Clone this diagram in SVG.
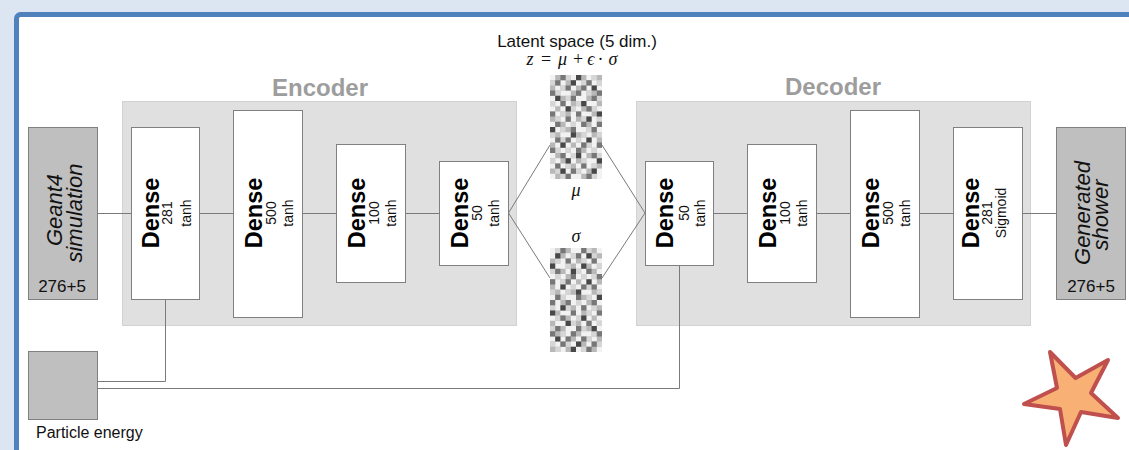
<svg xmlns="http://www.w3.org/2000/svg" xmlns:xlink="http://www.w3.org/1999/xlink" width="1129" height="450" viewBox="0 0 1129 450">
<style>
.cont{fill:#e0e0e0;stroke:#d2d2d2;stroke-width:1}
.title{font-family:"Liberation Sans",Arial,sans-serif;font-weight:bold;font-size:24px;fill:#9d9d9d;text-anchor:middle}
.layer{fill:#fff;stroke:#808080;stroke-width:1}
.io{fill:#bfbfbf;stroke:#808080;stroke-width:1}
.dn{font-family:"Liberation Sans",Arial,sans-serif;font-weight:bold;font-size:23.5px;fill:#000;text-anchor:middle}
.sm{font-family:"Liberation Sans",Arial,sans-serif;font-size:14px;fill:#111;text-anchor:middle}
.it{font-family:"Liberation Sans",Arial,sans-serif;font-style:italic;font-size:22px;fill:#111;text-anchor:middle}
.lbl{font-family:"Liberation Sans",Arial,sans-serif;font-size:17px;fill:#111;text-anchor:middle}
.m{font-family:"Liberation Serif","Times New Roman",serif;font-size:18px;fill:#111;text-anchor:middle}
.mi{font-style:italic}
.conn line,.conn polyline{stroke:#7a7a7a;stroke-width:1;fill:none}
.cw{stroke:#f2f2f2}.cl{stroke:#d6d6d6}.cd{stroke:#777}.ck{stroke:#484848}
.cells path{fill:none;stroke-width:1}
</style>
<defs>
<g id="grid" class="cells">
<rect x="0" y="0" width="10" height="20" fill="#b8b8b8"/>
<path class="cw" d="M0 .5h1M4 .5h1M7 .5h1M2 1.5h1M5 1.5h1M8 1.5h1M1 2.5h1M4 2.5h1M7 2.5h1M9 2.5h1M2 3.5h2M6 3.5h1M0 4.5h1M5 4.5h2M1 5.5h1M3 5.5h1M7 5.5h2M0 6.5h1M2 6.5h1M5 6.5h1M9 6.5h1M1 7.5h1M4 7.5h1M6 7.5h2M2 8.5h1M4 8.5h1M8 8.5h1M0 9.5h1M3 9.5h1M5 9.5h1M8 9.5h1M1 10.5h1M5 10.5h2M9 10.5h1M2 11.5h2M7 11.5h1M0 12.5h1M4 12.5h1M6 12.5h1M8 12.5h1M1 13.5h1M3 13.5h1M5 13.5h1M8 13.5h1M2 14.5h1M4 14.5h1M7 14.5h1M9 14.5h1M0 15.5h1M3 15.5h1M6 15.5h1M1 16.5h1M4 16.5h1M7 16.5h2M0 17.5h1M2 17.5h1M5 17.5h1M7 17.5h1M3 18.5h1M6 18.5h1M9 18.5h1M0 19.5h1M4 19.5h2M9 19.5h1"/>
<path class="cl" d="M3 .5h1M8 .5h1M0 1.5h1M6 1.5h1M9 1.5h1M2 2.5h1M1 3.5h1M7 3.5h1M3 4.5h1M9 4.5h1M0 5.5h1M5 5.5h1M4 6.5h1M8 6.5h1M2 7.5h1M1 8.5h1M6 8.5h1M9 8.5h1M4 9.5h1M2 10.5h1M7 10.5h1M0 11.5h1M6 11.5h1M9 11.5h1M2 12.5h1M5 12.5h1M7 13.5h1M1 14.5h1M3 14.5h1M8 14.5h1M4 15.5h1M9 15.5h1M0 16.5h1M6 16.5h1M3 17.5h1M8 17.5h1M1 18.5h1M5 18.5h1M2 19.5h1M8 19.5h1"/>
<path class="cd" d="M2 .5h1M1 1.5h1M7 1.5h1M3 2.5h1M6 2.5h1M0 3.5h1M5 3.5h1M9 3.5h1M4 4.5h1M8 4.5h1M2 5.5h1M7 6.5h1M0 7.5h1M5 7.5h1M3 8.5h1M1 9.5h1M6 9.5h1M9 9.5h1M4 10.5h1M8 10.5h1M1 12.5h1M3 12.5h1M6 13.5h1M9 13.5h1M0 14.5h1M5 14.5h1M2 15.5h1M8 15.5h1M1 17.5h1M6 17.5h1M4 18.5h1M3 19.5h1M7 19.5h1"/>
<path class="ck" d="M5 .5h1M4 1.5h1M8 2.5h1M1 4.5h1M6 5.5h1M3 6.5h1M9 7.5h1M7 8.5h1M0 10.5h1M4 11.5h1M7 12.5h1M2 13.5h1M5 15.5h1M3 16.5h1M9 16.5h1M2 18.5h1M8 18.5h1"/>
</g>
</defs>

<rect width="1129" height="450" fill="#dce6f2"/>
<rect x="16.5" y="14.5" width="1200" height="500" rx="4" fill="#fff" stroke="#4f81bd" stroke-width="5"/>

<g id="encoder">
<rect class="cont" x="122.5" y="101.5" width="394" height="224"/>
<text class="title" x="320" y="96">Encoder</text>
</g>
<g id="decoder">
<rect class="cont" x="636.5" y="101.5" width="394" height="224"/>
<text class="title" x="833" y="95">Decoder</text>
</g>

<g class="conn" id="connectors">
<line x1="97" y1="213.5" x2="131" y2="213.5"/>
<line x1="199" y1="213.5" x2="233" y2="213.5"/>
<line x1="302" y1="213.5" x2="336" y2="213.5"/>
<line x1="405" y1="213.5" x2="439" y2="213.5"/>
<line x1="713" y1="213.5" x2="747" y2="213.5"/>
<line x1="816" y1="213.5" x2="850" y2="213.5"/>
<line x1="919" y1="213.5" x2="953" y2="213.5"/>
<line x1="1022" y1="213.5" x2="1056" y2="213.5"/>
<polyline points="550,145 508.5,213 550,278"/>
<polyline points="602,145 645,213 602,278"/>
<polyline points="97,381.5 165.5,381.5 165.5,299"/>
<polyline points="97,388.5 679.5,388.5 679.5,265"/>
</g>

<g id="geant4">
<rect class="io" x="28.5" y="127.5" width="69" height="172"/>
<text class="it" transform="translate(62,210) rotate(-90)">Geant4</text>
<text class="it" transform="translate(82,213) rotate(-90)">simulation</text>
<text class="lbl" x="62" y="292">276+5</text>
</g>

<g id="enc1">
<rect class="layer" x="131.5" y="127.5" width="68" height="172"/>
<text class="dn" transform="translate(159,213) rotate(-90)">Dense</text>
<text class="sm" transform="translate(172,213) rotate(-90)">281</text>
<text class="sm" transform="translate(191,213) rotate(-90)">tanh</text>
</g>
<g id="enc2">
<rect class="layer" x="233.5" y="110.5" width="69" height="207"/>
<text class="dn" transform="translate(262,213) rotate(-90)">Dense</text>
<text class="sm" transform="translate(276,213) rotate(-90)">500</text>
<text class="sm" transform="translate(293,213) rotate(-90)">tanh</text>
</g>
<g id="enc3">
<rect class="layer" x="336.5" y="144.5" width="69" height="138"/>
<text class="dn" transform="translate(365,213) rotate(-90)">Dense</text>
<text class="sm" transform="translate(379,213) rotate(-90)">100</text>
<text class="sm" transform="translate(396,213) rotate(-90)">tanh</text>
</g>
<g id="enc4">
<rect class="layer" x="439.5" y="161.5" width="69" height="104"/>
<text class="dn" transform="translate(468,213) rotate(-90)">Dense</text>
<text class="sm" transform="translate(482,213) rotate(-90)">50</text>
<text class="sm" transform="translate(499,213) rotate(-90)">tanh</text>
</g>

<g id="latent">
<text class="lbl" x="577" y="47">Latent space (5 dim.)</text>
<text class="m mi" x="530" y="65">z</text>
<text class="m" x="546" y="65">=</text>
<text class="m mi" x="562.5" y="65">μ</text>
<text class="m" x="578" y="65">+</text>
<text class="m mi" x="591" y="65">ϵ</text>
<text class="m" x="600.5" y="65">·</text>
<text class="m mi" x="613" y="65">σ</text>
</g>
<g id="mu">
<use xlink:href="#grid" href="#grid" transform="translate(550,75) scale(5.2)"/>
<text class="m mi" x="576" y="196">μ</text>
</g>
<g id="sigma">
<use xlink:href="#grid" href="#grid" transform="translate(602,352) scale(-5.2,-5.2)"/>
<text class="m mi" x="576" y="242">σ</text>
</g>

<g id="dec1">
<rect class="layer" x="645.5" y="161.5" width="68" height="104"/>
<text class="dn" transform="translate(673,213) rotate(-90)">Dense</text>
<text class="sm" transform="translate(689,213) rotate(-90)">50</text>
<text class="sm" transform="translate(705,213) rotate(-90)">tanh</text>
</g>
<g id="dec2">
<rect class="layer" x="747.5" y="144.5" width="69" height="138"/>
<text class="dn" transform="translate(776,213) rotate(-90)">Dense</text>
<text class="sm" transform="translate(790,213) rotate(-90)">100</text>
<text class="sm" transform="translate(807,213) rotate(-90)">tanh</text>
</g>
<g id="dec3">
<rect class="layer" x="850.5" y="110.5" width="69" height="207"/>
<text class="dn" transform="translate(879,213) rotate(-90)">Dense</text>
<text class="sm" transform="translate(893,213) rotate(-90)">500</text>
<text class="sm" transform="translate(910,213) rotate(-90)">tanh</text>
</g>
<g id="dec4">
<rect class="layer" x="953.5" y="127.5" width="69" height="172"/>
<text class="dn" transform="translate(979,213) rotate(-90)">Dense</text>
<text class="sm" transform="translate(992,213) rotate(-90)">281</text>
<text class="sm" transform="translate(1006,213) rotate(-90)">Sigmoid</text>
</g>

<g id="shower">
<rect class="io" x="1056.5" y="127.5" width="69" height="172"/>
<text class="it" transform="translate(1090,213) rotate(-90)">Generated</text>
<text class="it" transform="translate(1108,215) rotate(-90)">shower</text>
<text class="lbl" x="1091" y="292">276+5</text>
</g>

<g id="particle">
<rect class="io" x="28.5" y="351.5" width="69" height="68"/>
<text x="36" y="438" font-family="'Liberation Sans',Arial,sans-serif" font-size="16" fill="#111">Particle energy</text>
</g>

<g id="star">
<polygon points="1050,352 1075.6,378 1108,360 1091,393 1118,418 1081,412 1066,445 1060,409 1024,404 1057,388" fill="#f9b074" stroke="#c0504d" stroke-width="4" stroke-linejoin="round"/>
</g>
</svg>
